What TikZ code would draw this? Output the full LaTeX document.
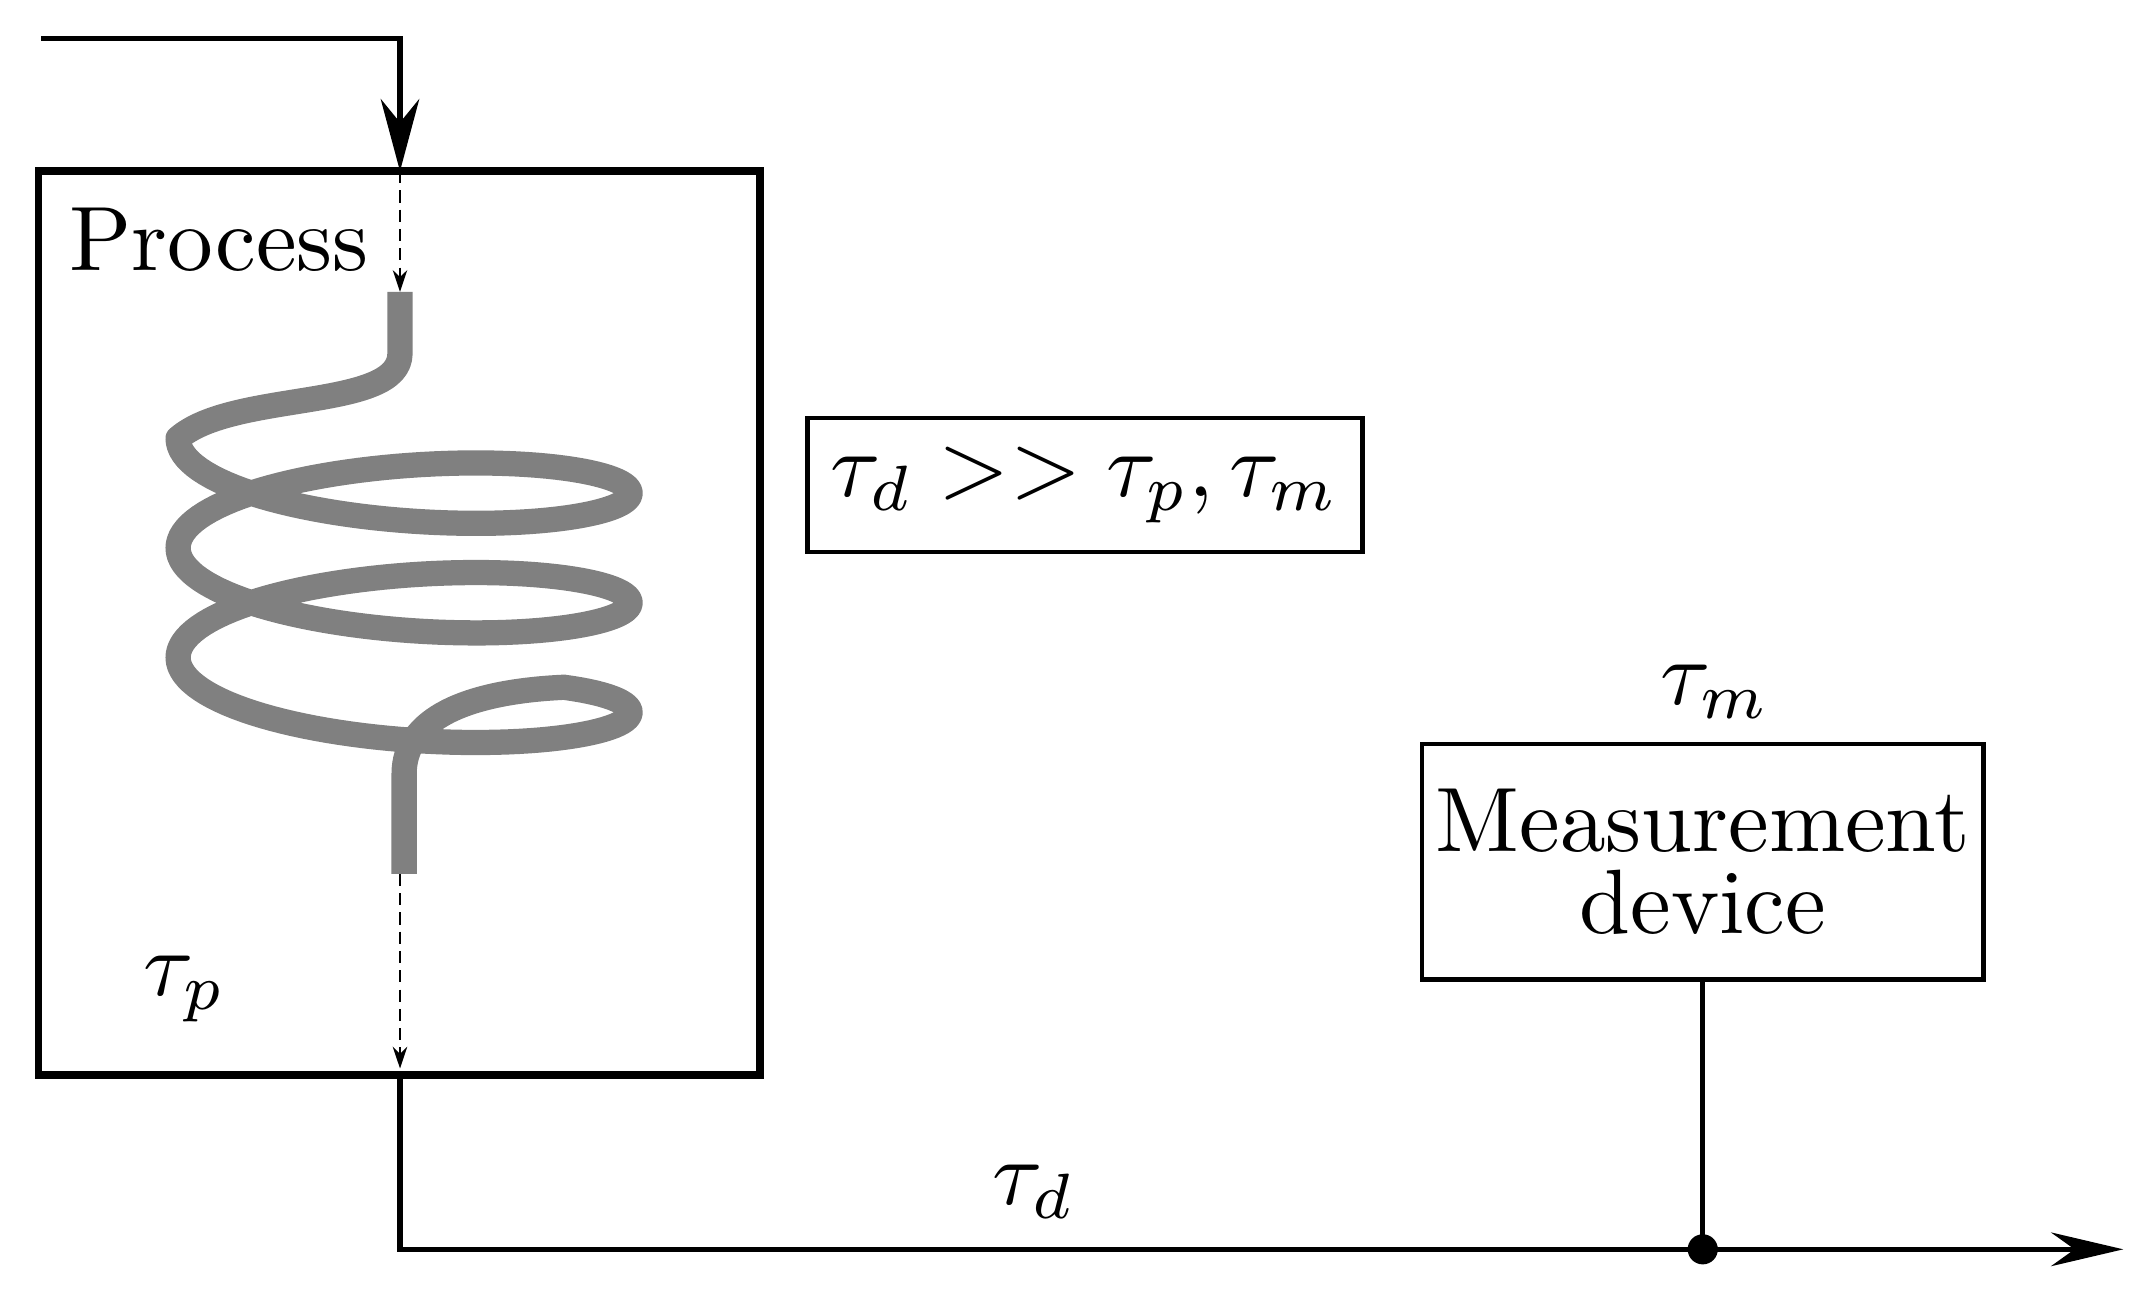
\documentclass[tikz,border=0pt]{standalone}
\usepackage{amsmath}
\usetikzlibrary{arrows.meta}
\begin{document}
\begin{tikzpicture}[x=0.02cm,y=-0.02cm,
  big/.style={font=\normalsize,scale=3.8},
  flow/.style={line width=2.2pt},
  dasharr/.style={line width=0.8pt,dash pattern=on 5pt off 3pt,-{Stealth[length=9pt,width=6pt]}},
  pipe/.style={line width=10.5pt,gray,line join=round},
  box/.style={draw,line width=1.8pt,inner sep=0pt}]
\useasboundingbox (0,0) rectangle (1560,942);
% input
\coordinate (in0) at (30,28);
\coordinate (in1) at (292,125);
\draw[flow,-{Stealth[length=30pt,width=16pt]}] (in0) -| (in1);
% process box
\draw[line width=3.2pt] (28,125) rectangle (555,785);
\node[big] (proc) at (160,175) {Process};
\coordinate (d0) at (292,125); \coordinate (d1) at (292,213);
\draw[dasharr] (d0) -- (d1);
% coil
\draw[pipe] (292,213) -- (292,258) .. controls (292,300) and (170,285) .. (130,320)
  -- plot[domain=180:-765,samples=300] ({295+165*cos(\x)},{320+0.2222*(180-\x)+40*sin(\x)})
  .. controls (340,505) and (295,525) .. (295,565) -- (295,638);
\coordinate (d2) at (292,638); \coordinate (d3) at (292,780);
\draw[dasharr] (d2) -- (d3);
\node[big] (taup) at (135,722) {$\tau_p$};
% output
\coordinate (o0) at (292,785);
\coordinate (o1) at (1550,912);
\draw[flow,-{Stealth[length=30pt,width=14pt]}] (o0) |- (o1);
\coordinate (dot) at (1243,912);
\fill (dot) circle (11);
\node[big] (taud) at (755,870) {$\tau_d$};
% relation box
\node[box,minimum width=405*0.02cm,minimum height=98*0.02cm] (rel) at (792,354) {};
\node[big] (reltext) at (rel) {$\tau_d >> \tau_p,\tau_m$};
% measurement
\node[box,minimum width=410*0.02cm,minimum height=172*0.02cm] (meas) at (1243,629) {};
\node[big,align=center] (meastext) at (meas) {Measurement\\[-3pt]device};
\node[big] (taum) at (1252,505) {$\tau_m$};
\draw[flow] (dot) -- (meas.south);
\end{tikzpicture}
\end{document}
